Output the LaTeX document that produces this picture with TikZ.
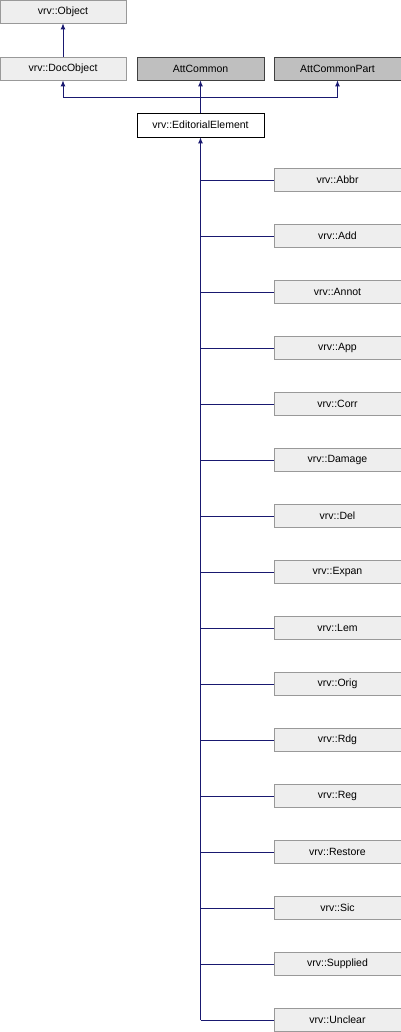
\documentclass[tikz,border=0pt]{standalone}
\usepackage{fontspec}
\setmainfont{Liberation Sans}
\usetikzlibrary{arrows.meta}

\definecolor{boxfill}{HTML}{EEEEEE}
\definecolor{boxline}{HTML}{999999}
\definecolor{attfill}{HTML}{BFBFBF}
\definecolor{attline}{HTML}{404040}
\definecolor{edgeblue}{HTML}{191970}

\tikzset{
    classbox/.style={draw=boxline, fill=boxfill, line width=0.8pt, inner sep=0pt,
        minimum width=126pt, minimum height=23pt, font=\fontsize{10.5}{12}\selectfont},
    attbox/.style={classbox, draw=attline, fill=attfill},
    mainbox/.style={classbox, draw=black, fill=white},
    inherit/.style={draw=edgeblue, line width=0.9pt},
    uparrow/.style={inherit, -{Latex[length=6pt,width=5pt]}}
}

\begin{document}
\begin{tikzpicture}[x=1pt, y=-1pt]
        \useasboundingbox (0,0) rectangle (401,1032);
        % base classes
        \node[classbox] (object) at (63,11.5) {vrv::Object};
        \node[classbox] (docobject) at (63,68.5) {vrv::DocObject};
        \node[attbox, minimum width=127pt] (attcommon) at (200.5,68.5) {AttCommon};
        \node[attbox, minimum width=127pt] (attcommonpart) at (337.5,68.5) {AttCommonPart};
        \node[mainbox, minimum width=127pt, minimum height=24pt] (editorial) at (200.5,125) {vrv::EditorialElement};
        \coordinate (bus) at (200.5,97);

        \draw[uparrow] (docobject.north) -- (object.south);
        \draw[uparrow] (editorial.north) -- (attcommon.south);
        \draw[uparrow] (bus) -| (docobject.south);
        \draw[uparrow] (bus) -| (attcommonpart.south);

        % derived classes
        \foreach \name [count=\i from 0] in {Abbr,Add,Annot,App,Corr,Damage,Del,Expan,Lem,Orig,Rdg,Reg,Restore,Sic,Supplied,Unclear} {
            \node[classbox, minimum width=127pt] (\name) at (337.5,180+56*\i) {vrv::\name};
            \draw[inherit] (editorial.south |- \name.west) -- (\name.west);
        }
        \draw[uparrow] (Unclear.west -| editorial.south) -- (editorial.south);
\end{tikzpicture}
\end{document}
